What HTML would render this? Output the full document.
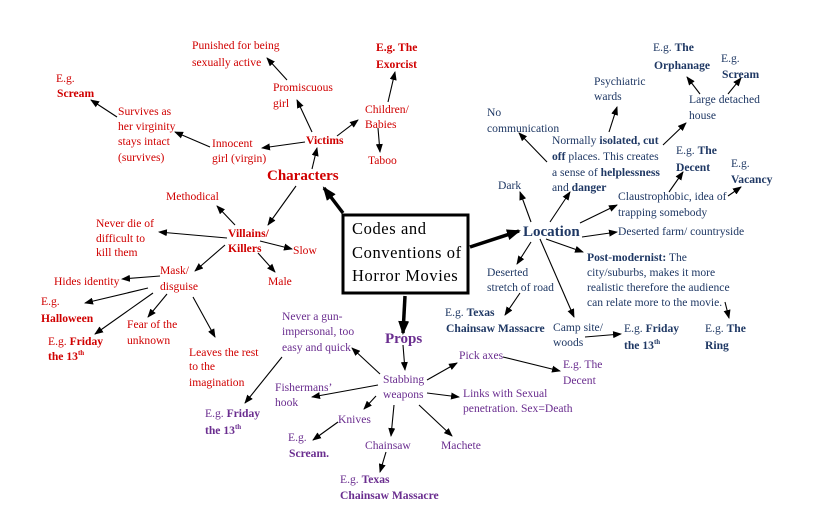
<!DOCTYPE html>
<html>
<head>
<meta charset="utf-8">
<style>
html,body{margin:0;padding:0;background:#fff;}
svg{display:block;}
text{font-family:"Liberation Serif","Times New Roman","DejaVu Serif",serif;font-size:11.6px;}
.r{fill:#d00000;}
.b{fill:#1f3864;}
.p{fill:#6a2d8f;}
.big{font-size:15px;font-weight:bold;}
.bd{font-weight:bold;}
.sup{font-size:7px;}
.box{font-size:16.5px;letter-spacing:0.6px;}
line.t{stroke:#000;stroke-width:1.1;marker-end:url(#ah);}
line.k{stroke:#000;stroke-width:3.5;marker-end:url(#ahk);}
</style>
</head>
<body>
<svg width="825" height="525" viewBox="0 0 825 525" xmlns="http://www.w3.org/2000/svg" font-family="Liberation Serif, Times New Roman, serif">
<defs>
<marker id="ah" markerUnits="userSpaceOnUse" markerWidth="9" markerHeight="7" refX="8" refY="3.5" orient="auto">
<path d="M0,0 L9,3.5 L0,7 z" fill="#000"/>
</marker>
<marker id="ahk" markerUnits="userSpaceOnUse" markerWidth="14" markerHeight="11" refX="12" refY="5.5" orient="auto">
<path d="M0,0 L14,5.5 L0,11 z" fill="#000"/>
</marker>
</defs>

<!-- central box -->
<rect x="343" y="215" width="125" height="78" fill="#fff" stroke="#000" stroke-width="3"/>
<text class="box" x="352" y="234">Codes and</text>
<text class="box" x="352" y="258">Conventions of</text>
<text class="box" x="352" y="281">Horror Movies</text>

<!-- thick arrows -->
<line class="k" x1="343" y1="213" x2="324" y2="188"/>
<line class="k" x1="470" y1="247" x2="519" y2="231"/>
<line class="k" x1="405" y1="296" x2="403" y2="333"/>

<!-- Characters group arrows -->
<line class="t" x1="312" y1="169" x2="317" y2="148"/>
<line class="t" x1="305" y1="142" x2="262" y2="148"/>
<line class="t" x1="210" y1="147" x2="175" y2="132"/>
<line class="t" x1="117" y1="117" x2="91" y2="100"/>
<line class="t" x1="312" y1="132" x2="297" y2="100"/>
<line class="t" x1="287" y1="80" x2="267" y2="58"/>
<line class="t" x1="337" y1="136" x2="358" y2="120"/>
<line class="t" x1="388" y1="102" x2="395" y2="72"/>
<line class="t" x1="378" y1="128" x2="380" y2="152"/>
<line class="t" x1="296" y1="186" x2="268" y2="225"/>
<line class="t" x1="235" y1="225" x2="217" y2="206"/>
<line class="t" x1="227" y1="238" x2="159" y2="232"/>
<line class="t" x1="260" y1="241" x2="292" y2="249"/>
<line class="t" x1="258" y1="253" x2="275" y2="272"/>
<line class="t" x1="225" y1="245" x2="195" y2="271"/>
<line class="t" x1="160" y1="276" x2="122" y2="279"/>
<line class="t" x1="148" y1="288" x2="85" y2="303"/>
<line class="t" x1="153" y1="293" x2="95" y2="334"/>
<line class="t" x1="167" y1="294" x2="148" y2="317"/>
<line class="t" x1="193" y1="297" x2="215" y2="337"/>

<!-- Props group arrows -->
<line class="t" x1="282" y1="357" x2="245" y2="403"/>
<line class="t" x1="403" y1="345" x2="405" y2="370"/>
<line class="t" x1="380" y1="374" x2="352" y2="348"/>
<line class="t" x1="427" y1="380" x2="457" y2="363"/>
<line class="t" x1="503" y1="357" x2="560" y2="371"/>
<line class="t" x1="378" y1="385" x2="312" y2="397"/>
<line class="t" x1="427" y1="393" x2="459" y2="397"/>
<line class="t" x1="376" y1="396" x2="364" y2="409"/>
<line class="t" x1="338" y1="422" x2="313" y2="440"/>
<line class="t" x1="394" y1="405" x2="391" y2="436"/>
<line class="t" x1="419" y1="405" x2="452" y2="436"/>
<line class="t" x1="386" y1="452" x2="380" y2="472"/>

<!-- Location group arrows -->
<line class="t" x1="531" y1="222" x2="520" y2="192"/>
<line class="t" x1="550" y1="222" x2="570" y2="192"/>
<line class="t" x1="547" y1="162" x2="519" y2="133"/>
<line class="t" x1="609" y1="132" x2="617" y2="107"/>
<line class="t" x1="663" y1="145" x2="686" y2="123"/>
<line class="t" x1="700" y1="94" x2="687" y2="77"/>
<line class="t" x1="728" y1="94" x2="741" y2="78"/>
<line class="t" x1="580" y1="223" x2="617" y2="205"/>
<line class="t" x1="669" y1="192" x2="683" y2="172"/>
<line class="t" x1="728" y1="196" x2="741" y2="187"/>
<line class="t" x1="582" y1="237" x2="617" y2="232"/>
<line class="t" x1="546" y1="239" x2="583" y2="252"/>
<line class="t" x1="531" y1="242" x2="517" y2="264"/>
<line class="t" x1="520" y1="293" x2="505" y2="315"/>
<line class="t" x1="540" y1="239" x2="574" y2="317"/>
<line class="t" x1="585" y1="337" x2="621" y2="334"/>
<line class="t" x1="725" y1="302" x2="729" y2="318"/>

<!-- RED texts -->
<text class="r" x="192" y="49">Punished for being</text>
<text class="r" x="192" y="66">sexually active</text>
<text class="r bd" x="376" y="51">E.g. The</text>
<text class="r bd" x="376" y="68">Exorcist</text>
<text class="r" x="56" y="82">E.g.</text>
<text class="r bd" x="57" y="97">Scream</text>
<text class="r" x="273" y="91">Promiscuous</text>
<text class="r" x="273" y="107">girl</text>
<text class="r" x="118" y="115">Survives as</text>
<text class="r" x="118" y="130">her virginity</text>
<text class="r" x="118" y="145">stays intact</text>
<text class="r" x="118" y="161">(survives)</text>
<text class="r" x="212" y="147">Innocent</text>
<text class="r" x="212" y="162">girl (virgin)</text>
<text class="r bd" x="306" y="144">Victims</text>
<text class="r" x="365" y="113">Children/</text>
<text class="r" x="365" y="128">Babies</text>
<text class="r" x="368" y="164">Taboo</text>
<text class="r big" x="267" y="180">Characters</text>
<text class="r" x="166" y="200">Methodical</text>
<text class="r" x="96" y="227">Never die of</text>
<text class="r" x="96" y="242">difficult to</text>
<text class="r" x="96" y="256">kill them</text>
<text class="r bd" x="228" y="237">Villains/</text>
<text class="r bd" x="228" y="252">Killers</text>
<text class="r" x="293" y="254">Slow</text>
<text class="r" x="160" y="274">Mask/</text>
<text class="r" x="160" y="290">disguise</text>
<text class="r" x="268" y="285">Male</text>
<text class="r" x="54" y="285">Hides identity</text>
<text class="r" x="41" y="305">E.g.</text>
<text class="r bd" x="41" y="322">Halloween</text>
<text class="r" x="48" y="345">E.g. <tspan class="bd">Friday</tspan></text>
<text class="r bd" x="48" y="360">the 13<tspan class="sup" dy="-5">th</tspan></text>
<text class="r" x="127" y="328">Fear of the</text>
<text class="r" x="127" y="344">unknown</text>
<text class="r" x="189" y="356">Leaves the rest</text>
<text class="r" x="189" y="370">to the</text>
<text class="r" x="189" y="386">imagination</text>

<!-- PURPLE texts -->
<text class="p" x="282" y="320">Never a gun-</text>
<text class="p" x="282" y="335">impersonal, too</text>
<text class="p" x="282" y="351">easy and quick</text>
<text class="p big" x="385" y="343">Props</text>
<text class="p" x="383" y="383">Stabbing</text>
<text class="p" x="383" y="398">weapons</text>
<text class="p" x="459" y="359">Pick axes</text>
<text class="p" x="563" y="368">E.g. The</text>
<text class="p" x="563" y="384">Decent</text>
<text class="p" x="275" y="391">Fishermans’</text>
<text class="p" x="275" y="406">hook</text>
<text class="p" x="463" y="397">Links with Sexual</text>
<text class="p" x="463" y="412">penetration. Sex=Death</text>
<text class="p" x="338" y="423">Knives</text>
<text class="p" x="288" y="441">E.g.</text>
<text class="p bd" x="289" y="457">Scream.</text>
<text class="p" x="365" y="449">Chainsaw</text>
<text class="p" x="441" y="449">Machete</text>
<text class="p" x="340" y="483">E.g. <tspan class="bd">Texas</tspan></text>
<text class="p bd" x="340" y="499">Chainsaw Massacre</text>
<text class="p" x="205" y="417">E.g. <tspan class="bd">Friday</tspan></text>
<text class="p bd" x="205" y="434">the 13<tspan class="sup" dy="-5">th</tspan></text>

<!-- BLUE texts -->
<text class="b" x="653" y="51">E.g. <tspan class="bd">The</tspan></text>
<text class="b bd" x="654" y="69">Orphanage</text>
<text class="b" x="721" y="62">E.g.</text>
<text class="b bd" x="722" y="78">Scream</text>
<text class="b" x="594" y="85">Psychiatric</text>
<text class="b" x="594" y="100">wards</text>
<text class="b" x="689" y="103">Large detached</text>
<text class="b" x="689" y="119">house</text>
<text class="b" x="487" y="116">No</text>
<text class="b" x="487" y="132">communication</text>
<text class="b" x="552" y="144">Normally <tspan class="bd">isolated, cut</tspan></text>
<text class="b" x="552" y="160"><tspan class="bd">off</tspan> places. This creates</text>
<text class="b" x="552" y="176">a sense of <tspan class="bd">helplessness</tspan></text>
<text class="b" x="552" y="191">and <tspan class="bd">danger</tspan></text>
<text class="b" x="676" y="154">E.g. <tspan class="bd">The</tspan></text>
<text class="b bd" x="676" y="171">Decent</text>
<text class="b" x="731" y="167">E.g.</text>
<text class="b bd" x="731" y="183">Vacancy</text>
<text class="b" x="498" y="189">Dark</text>
<text class="b" x="618" y="200">Claustrophobic, idea of</text>
<text class="b" x="618" y="216">trapping somebody</text>
<text class="b big" x="523" y="236">Location</text>
<text class="b" x="618" y="235">Deserted farm/ countryside</text>
<text class="b" x="587" y="261"><tspan class="bd">Post-modernist:</tspan> The</text>
<text class="b" x="587" y="276">city/suburbs, makes it more</text>
<text class="b" x="587" y="291">realistic therefore the audience</text>
<text class="b" x="587" y="306">can relate more to the movie.</text>
<text class="b" x="487" y="276">Deserted</text>
<text class="b" x="487" y="291">stretch of road</text>
<text class="b" x="445" y="316">E.g. <tspan class="bd">Texas</tspan></text>
<text class="b bd" x="446" y="332">Chainsaw Massacre</text>
<text class="b" x="553" y="331">Camp site/</text>
<text class="b" x="553" y="346">woods</text>
<text class="b" x="624" y="332">E.g. <tspan class="bd">Friday</tspan></text>
<text class="b bd" x="624" y="349">the 13<tspan class="sup" dy="-5">th</tspan></text>
<text class="b" x="705" y="332">E.g. <tspan class="bd">The</tspan></text>
<text class="b bd" x="705" y="349">Ring</text>
</svg>
</body>
</html>
